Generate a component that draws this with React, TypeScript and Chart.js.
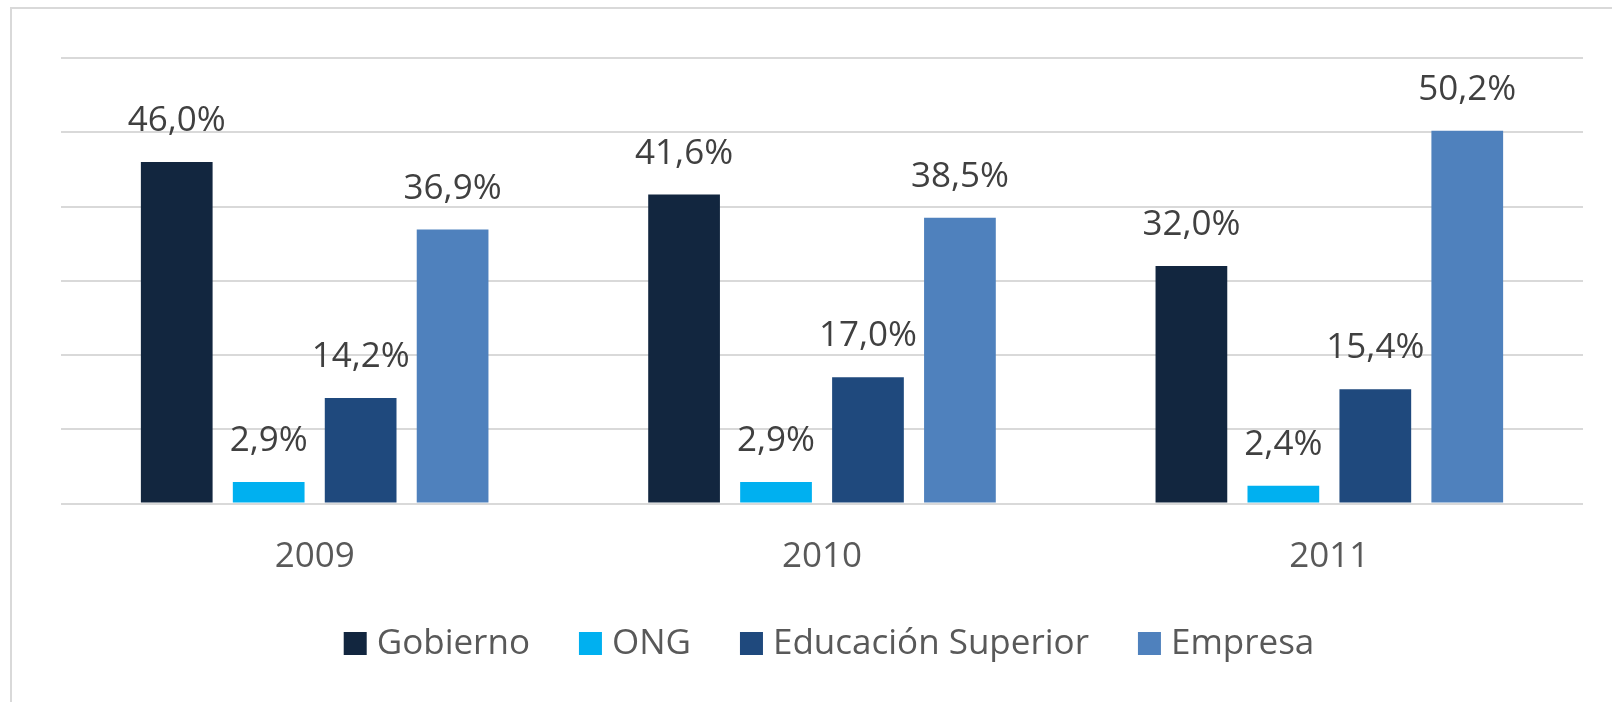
import React, { useEffect, useRef } from "react";
import { Chart, registerables } from "chart.js";

Chart.register(...registerables);

const categories = ["2009", "2010", "2011"];
const seriesNames = ["Gobierno", "ONG", "Educación Superior", "Empresa"];
const gobierno = [46.0, 41.6, 32.0];
const ong = [2.9, 2.9, 2.4];
const educacion = [14.2, 17.0, 15.4];
const empresa = [36.9, 38.5, 50.2];
const seriesColors = ["#12263F", "#00B0F0", "#1F497D", "#4F81BD"];
const yTicks = [0, 10, 20, 30, 40, 50, 60];

const FONT = '"Open Sans", "DejaVu Sans", sans-serif';

const framePlugin = {
  id: "frame",
  beforeDraw(chart: any) {
    const ctx = chart.ctx;
    ctx.save();
    ctx.fillStyle = "#FFFFFF";
    ctx.fillRect(0, 0, chart.width, chart.height);
    ctx.strokeStyle = "#D9D9D9";
    ctx.lineWidth = 2;
    ctx.strokeRect(11, 8, chart.width + 40, chart.height + 40);
    ctx.restore();
  },
};

const labelPlugin = {
  id: "barLabels",
  afterDatasetsDraw(chart: any) {
    const ctx = chart.ctx;
    ctx.save();
    ctx.font = `35px ${FONT}`;
    ctx.fillStyle = "#404040";
    ctx.textAlign = "center";
    ctx.textBaseline = "alphabetic";
    chart.data.datasets.forEach((ds: any, i: number) => {
      const meta = chart.getDatasetMeta(i);
      meta.data.forEach((bar: any, j: number) => {
        const v = ds.data[j] as number;
        const txt = v.toFixed(1).replace(".", ",") + "%";
        ctx.fillText(txt, bar.x, bar.y - 31);
      });
    });
    ctx.restore();
  },
};

const legendPlugin = {
  id: "customLegend",
  afterDraw(chart: any) {
    const ctx = chart.ctx;
    ctx.save();
    ctx.font = `35px ${FONT}`;
    ctx.textBaseline = "middle";
    ctx.textAlign = "left";
    const box = 23;
    const gapText = 10;
    const gapItem = 49;
    const items = chart.data.datasets.map((ds: any) => ({
      label: ds.label as string,
      color: ds.backgroundColor as string,
      w: ctx.measureText(ds.label).width,
    }));
    const total = items.reduce((s: number, it: any) => s + box + gapText + it.w, 0) + gapItem * (items.length - 1);
    const center = (chart.chartArea.left + chart.chartArea.right) / 2 + 7;
    let x = center - total / 2;
    const cy = 643.5;
    items.forEach((it: any) => {
      ctx.fillStyle = it.color;
      ctx.fillRect(x, cy - box / 2, box, box);
      ctx.fillStyle = "#595959";
      ctx.fillText(it.label, x + box + gapText, cy + 1);
      x += box + gapText + it.w + gapItem;
    });
    ctx.restore();
  },
};

export default function App() {
  const ref = useRef<HTMLCanvasElement | null>(null);
  useEffect(() => {
    if (!ref.current) return;
    const values = [gobierno, ong, educacion, empresa];
    const chart = new Chart(ref.current, {
      type: "bar",
      data: {
        labels: categories,
        datasets: seriesNames.map((name, i) => ({
          label: name,
          data: values[i],
          backgroundColor: seriesColors[i],
          borderWidth: 0,
          categoryPercentage: 0.725,
          barPercentage: 0.78,
        })),
      },
      options: {
        responsive: false,
        animation: false,
        layout: { padding: { left: 61, right: 29, top: 58, bottom: 90.5 } },
        plugins: {
          legend: { display: false },
          tooltip: { enabled: false },
        },
        scales: {
          x: {
            grid: { display: false, drawTicks: false },
            border: { display: false },
            ticks: {
              color: "#595959",
              font: { family: FONT, size: 35 },
              padding: 33,
            },
          },
          y: {
            min: yTicks[0],
            max: yTicks[yTicks.length - 1],
            afterBuildTicks: (axis: any) => {
              axis.ticks = yTicks.map((v) => ({ value: v }));
            },
            grid: { color: "#D9D9D9", lineWidth: 2, drawTicks: false },
            border: { display: false },
            ticks: { display: false },
          },
        },
      },
      plugins: [framePlugin, labelPlugin, legendPlugin],
    });
    return () => chart.destroy();
  }, []);
  return (
    <div style={{ position: "fixed", left: 0, top: 0, width: 1612, height: 702, background: "#fff" }}>
      <canvas ref={ref} width={1612} height={702} style={{ display: "block" }} />
    </div>
  );
}
